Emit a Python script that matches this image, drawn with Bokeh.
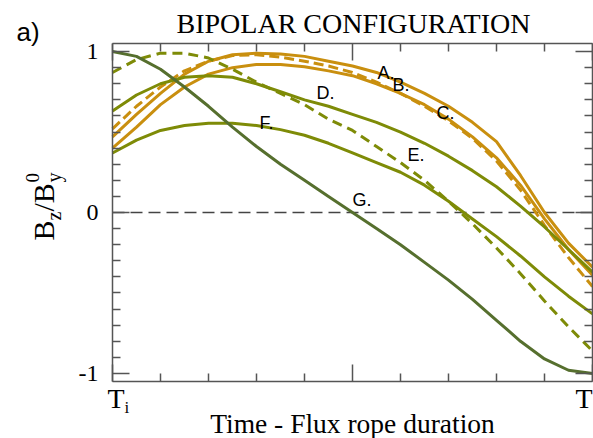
from bokeh.plotting import figure
from bokeh.models import Range1d, LinearAxis, FixedTicker, Label
from bokeh.embed import file_html
from bokeh.resources import INLINE

# ---------------- data ----------------
X = [0.0, 0.05, 0.1, 0.15, 0.2, 0.25, 0.3, 0.35, 0.4, 0.45, 0.5,
     0.55, 0.6, 0.65, 0.7, 0.75, 0.8, 0.85, 0.9, 0.95, 1.0]

A = [0.47, 0.61, 0.74, 0.86, 0.94, 0.98, 0.99, 0.985, 0.97, 0.94, 0.91,
     0.87, 0.81, 0.74, 0.66, 0.56, 0.44, 0.23, 0.0, -0.19, -0.34]
B = [0.52, 0.66, 0.78, 0.88, 0.94, 0.975, 0.98, 0.965, 0.94, 0.91, 0.87,
     0.81, 0.74, 0.66, 0.57, 0.46, 0.32, 0.14, -0.08, -0.28, -0.46]
C = [0.40, 0.53, 0.67, 0.78, 0.86, 0.90, 0.92, 0.92, 0.905, 0.88, 0.85,
     0.80, 0.74, 0.67, 0.58, 0.47, 0.34, 0.17, -0.04, -0.23, -0.39]
D = [0.63, 0.73, 0.80, 0.84, 0.85, 0.84, 0.80, 0.75, 0.70, 0.66, 0.61,
     0.56, 0.50, 0.43, 0.35, 0.26, 0.16, 0.04, -0.09, -0.23, -0.37]
E = [0.87, 0.95, 0.99, 0.99, 0.96, 0.89, 0.81, 0.74, 0.67, 0.58, 0.51,
     0.41, 0.31, 0.20, 0.07, -0.07, -0.22, -0.38, -0.55, -0.71, -0.86]
F = [0.37, 0.45, 0.51, 0.54, 0.555, 0.555, 0.54, 0.515, 0.48, 0.43, 0.37,
     0.31, 0.25, 0.17, 0.07, -0.04, -0.15, -0.27, -0.40, -0.52, -0.63]
G = [1.0, 0.97, 0.89, 0.78, 0.66, 0.53, 0.41, 0.30, 0.20, 0.10, 0.0,
     -0.10, -0.20, -0.31, -0.42, -0.54, -0.67, -0.80, -0.91, -0.98, -1.0]

CURVE_NAMES = ["A.", "B.", "C.", "D.", "E.", "F.", "G."]
Y_TICKS = [-1, 0, 1]
Y_TICK_LABELS = ["-1", "0", "1"]
Y_MINOR = [-0.9, -0.8, -0.7, -0.6, -0.5, -0.4, -0.3, -0.2, -0.1,
           0.1, 0.2, 0.3, 0.4, 0.5, 0.6, 0.7, 0.8, 0.9]
X_TICKS = [0, 0.5, 1]
X_MINOR = [0.1, 0.2, 0.3, 0.4, 0.6, 0.7, 0.8, 0.9]

TITLE = "BIPOLAR CONFIGURATION"
XLABEL = "Time - Flux rope duration"

# ---------------- styles / layout ----------------
GOLD = "#C98F0F"
OLIVE = "#7E8B07"
DARK = "#566F2E"
AXC = "#555555"
SERIF = "Liberation Serif"
SANS = "Liberation Sans"
BASE_SHIFT = 0.32          # baseline correction, in em

W, H = 593, 438
FL, FR, FT, FB = 112, 592, 43, 381       # plot box in canvas pixels
x0, x1 = 0.0, 1.0
y0, y1 = -1.05, 1.05
sx = (FR - FL) / (x1 - x0)
sy = (FB - FT) / (y1 - y0)
xr = Range1d(x0 - FL / sx, x1 + (W - FR) / sx)
yr = Range1d(y0 - (H - FB) / sy, y1 + FT / sy)

p = figure(width=W, height=H, x_range=xr, y_range=yr,
           x_axis_location=None, y_axis_location=None,
           output_backend="svg", toolbar_location=None,
           min_border=0, min_border_left=0, min_border_right=0,
           min_border_top=0, min_border_bottom=0, outline_line_color=None,
           background_fill_color="white", border_fill_color="white")
p.grid.visible = False


def make_axis(ticks, minor, loc, bounds, labels=None):
    ax = LinearAxis(ticker=FixedTicker(ticks=ticks, minor_ticks=minor),
                    fixed_location=loc, bounds=bounds)
    ax.axis_line_color = AXC
    ax.axis_line_width = 1.5
    ax.major_tick_line_color = AXC
    ax.major_tick_line_width = 1.5
    ax.minor_tick_line_color = AXC
    ax.minor_tick_line_width = 1.5
    ax.major_tick_in = 17
    ax.major_tick_out = 0
    ax.minor_tick_in = 8
    ax.minor_tick_out = 0
    if labels is not None:
        ax.major_label_text_font = SERIF
        ax.major_label_text_font_size = "24px"
        ax.major_label_text_color = "black"
        ax.major_label_standoff = 14
        ax.major_label_overrides = {t: s for t, s in zip(ticks, labels)}
    else:
        ax.major_label_overrides = {t: "" for t in ticks}
        ax.major_label_standoff = 0
    return ax


p.add_layout(make_axis(Y_TICKS, Y_MINOR, x0, (y0, y1), labels=Y_TICK_LABELS), "left")
p.add_layout(make_axis(Y_TICKS, Y_MINOR, x1, (y0, y1)), "right")
p.add_layout(make_axis(X_TICKS, X_MINOR, y0, (x0, x1)), "below")
p.add_layout(make_axis(X_TICKS, X_MINOR, y1, (x0, x1)), "above")

# zero reference line across the time span
p.line([X[0], X[-1]], [0, 0], line_color="#444444", line_width=1.3, line_dash="12 6")

curves = [(A, GOLD, "solid"), (B, GOLD, "10 5"), (C, GOLD, "solid"),
          (D, OLIVE, "solid"), (E, OLIVE, "10 6"), (F, OLIVE, "solid"),
          (G, DARK, "solid")]
for ys, col, dash in curves:
    p.line(X, ys, line_color=col, line_width=3, line_dash=dash)


def clabel(txt, px, py, font, size, align="left", rotated=False):
    """px, py: canvas pixel of the text anchor on its baseline."""
    shift = BASE_SHIFT * size
    if rotated:
        ax_, ay_, ang = px - shift, py, 1.5707963
    else:
        ax_, ay_, ang = px, py - shift, 0.0
    p.add_layout(Label(x=ax_, y=ay_, x_units="canvas", y_units="canvas",
                       text=txt, text_font=font, text_font_size=f"{size}px",
                       text_color="black", text_align=align,
                       text_baseline="alphabetic", angle=ang))


# curve labels (left edge, baseline) in canvas pixels
label_px = [(377, 78), (392, 90), (436, 118), (316, 98), (407, 160), (259, 128), (352, 205)]
for name, (px, py) in zip(CURVE_NAMES, label_px):
    clabel(name, px, py, SANS, 18)

clabel(TITLE, 353, 32, SERIF, 28, align="center")
clabel("a)", 16, 40, SANS, 26)
clabel(XLABEL, 352, 432, SERIF, 27.5, align="center")

clabel("T", 107, 407, SERIF, 28)
clabel("i", 124, 412, SERIF, 17)
clabel("T", 575, 407, SERIF, 28)

pieces = [("B", 53, 240, 30), ("z", 60, 220, 20), ("/B", 53, 211, 30),
          ("y", 60, 182, 20), ("0", 38, 182, 19)]
for txt, bx, syy, fs in pieces:
    clabel(txt, bx, syy, SERIF, fs, rotated=True)

open("out.html", "w").write(file_html(p, INLINE))
